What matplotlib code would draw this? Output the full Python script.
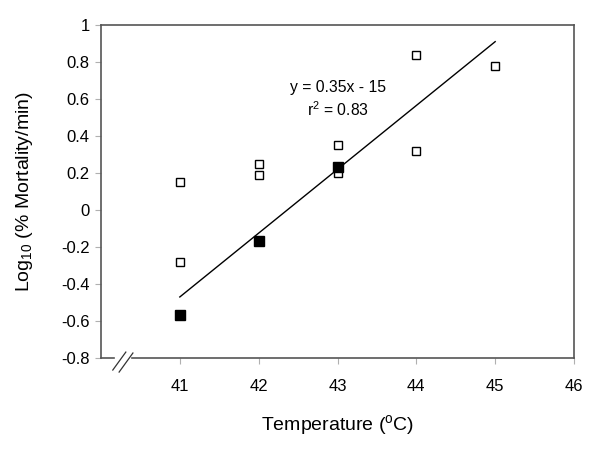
import matplotlib.pyplot as plt

plt.rcParams['font.family'] = ['Liberation Sans', 'DejaVu Sans']
plt.rcParams['mathtext.fontset'] = 'custom'
plt.rcParams['mathtext.rm'] = 'Liberation Sans'
plt.rcParams['mathtext.it'] = 'Liberation Sans'

# otwarte kwadraty
open_x = [41, 41, 42, 42, 43, 43, 44, 44, 45]
open_y = [0.15, -0.28, 0.25, 0.19, 0.35, 0.20, 0.84, 0.32, 0.78]
# pełne kwadraty
full_x = [41, 42, 43]
full_y = [-0.57, -0.17, 0.23]
# linia regresji
fit_x = [41, 45]
fit_y = [-0.47, 0.91]

x_ticks = [41, 42, 43, 44, 45, 46]
y_ticks = [-0.8, -0.6, -0.4, -0.2, 0, 0.2, 0.4, 0.6, 0.8, 1]
y_labels = ['-0.8', '-0.6', '-0.4', '-0.2', '0', '0.2', '0.4', '0.6', '0.8', '1']

fig = plt.figure(figsize=(6, 4.53), dpi=100)
ax = fig.add_axes([0.1683, 0.2097, 0.7884, 0.7351])

ax.plot(fit_x, fit_y, color='black', lw=1)
ax.plot(open_x, open_y, ls='none', marker='s', ms=5.3, mfc='white', mec='black', mew=1)
ax.plot(full_x, full_y, ls='none', marker='s', ms=7, mfc='black', mec='black')

ax.set_xlim(40, 46)
ax.set_ylim(-0.8, 1)
ax.set_xticks(x_ticks)
ax.set_yticks(y_ticks)
ax.set_yticklabels(y_labels)
ax.tick_params(direction='out', length=4, color='#b0b0b0', labelsize=12)
ax.tick_params(axis='x', pad=11)
ax.tick_params(axis='y', pad=4)

for s in ['top', 'right', 'left']:
    ax.spines[s].set_color('#555555')
    ax.spines[s].set_linewidth(1.2)
ax.spines['bottom'].set_visible(False)

# oś x z przerwą
ax.plot([40, 40.165], [-0.8, -0.8], color='#555555', lw=1.2, clip_on=False)
ax.plot([40.39, 46], [-0.8, -0.8], color='#555555', lw=1.2, clip_on=False)
ax.plot([40.15, 40.315], [-0.865, -0.768], color='#333333', lw=0.9, clip_on=False)
ax.plot([40.23, 40.405], [-0.876, -0.773], color='#333333', lw=0.9, clip_on=False)

ax.text(43.0, 0.66, 'y = 0.35x - 15', ha='center', va='center', fontsize=11.3)
ax.text(43.0, 0.54, r'r$^{\mathregular{2}}$ = 0.83', ha='center', va='center', fontsize=11.3)

ax.set_xlabel(r'Temperature ($\mathregular{^{o}}$C)', fontsize=14, labelpad=14)
ax.set_ylabel(r'Log$\mathregular{_{10}}$ (% Mortality/min)', fontsize=14, labelpad=19)

fig.savefig('out.png', dpi=100)
